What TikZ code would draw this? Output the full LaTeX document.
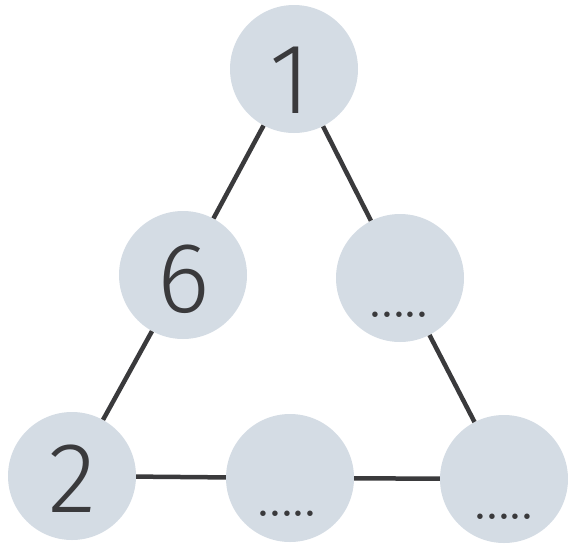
\documentclass[tikz,border=0pt]{standalone}
\usepackage{fontspec}
\newfontfamily\digfont{Fira Sans Light}
\definecolor{disc}{HTML}{D4DCE4}
\definecolor{ink}{HTML}{3A3A3C}
\begin{document}
\begin{tikzpicture}[x=1pt,y=-1pt,
  ball/.style={circle,fill=disc,minimum size=128pt,inner sep=0pt},
  edge/.style={draw=ink,line width=4.5pt},
  digit/.style={font=\digfont\fontsize{100}{100}\selectfont,text=ink,anchor=base,inner sep=0pt},
  dotsrow/.style={font=\fontsize{38}{38}\selectfont\bfseries,text=ink,anchor=base,inner sep=0pt}]
\useasboundingbox (0,0) rectangle (568,544);
\node[ball] (T) at (294,69) {};
\node[ball] (ML) at (183,275) {};
\node[ball] (MR) at (400,278) {};
\node[ball] (BL) at (72,476) {};
\node[ball] (BM) at (290,478) {};
\node[ball] (BR) at (504,479) {};
\draw[edge] (T) -- (ML);
\draw[edge] (ML) -- (BL);
\draw[edge] (T) -- (MR);
\draw[edge] (MR) -- (BR);
\draw[edge] (BL) -- (BM);
\draw[edge] (BM) -- (BR);
\node[digit] (t1) at (290,113) {1};
\node[digit] (t6) at (184,312) {6};
\node[digit] (t2) at (72,512) {2};
\node[dotsrow] (d1) at (399,317) {.....};
\node[dotsrow] (d2) at (287,516) {.....};
\node[dotsrow] (d3) at (504,519) {.....};
\end{tikzpicture}
\end{document}
